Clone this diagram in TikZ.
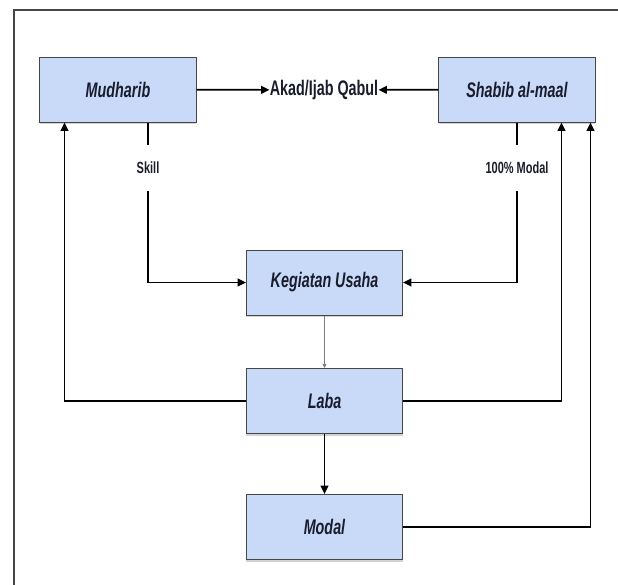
\documentclass[tikz,border=0pt]{standalone}
\usepackage{fontspec}
\setmainfont{Liberation Sans}[FakeStretch=0.68]
\usetikzlibrary{arrows.meta,shadows}

\definecolor{myboxblue}{RGB}{201,218,248}
\definecolor{myframegray}{RGB}{70,70,70}
\definecolor{mytextdark}{RGB}{25,28,45}

\tikzset{
  akadbox/.style={draw=myframegray,line width=0.7pt,fill=myboxblue,minimum width=3.9cm,minimum height=1.625cm,
    font=\fontsize{15}{17}\selectfont\bfseries\itshape,text=mytextdark,
    drop shadow={shadow xshift=0pt,shadow yshift=-1.5pt,opacity=0.35}},
  akadlabel/.style={inner sep=0pt,font=\fontsize{11.5}{13}\selectfont\bfseries,text=mytextdark,minimum height=1.15cm},
  arr/.style={line width=1.2pt,-{Triangle[length=6pt,width=5.5pt]}}
}

\begin{document}
\begin{tikzpicture}[x=0.025cm,y=-0.025cm]
\useasboundingbox (0,0) rectangle (618,585);
  \draw[myframegray,line width=1.4pt] (618,10) -- (14,10) -- (14,585);

  \node[akadbox] (mud)  at (118,89.5)  {Mudharib};
  \node[akadbox] (shab) at (517,89.5)  {Shabib al-maal};
  \node[akadbox] (keg)  at (324.5,282.5) {Kegiatan Usaha};
  \node[akadbox] (laba) at (324.5,401) {Laba};
  \node[akadbox] (mod)  at (324.5,527) {Modal};

  \node[inner sep=0pt,font=\fontsize{15}{17}\selectfont\bfseries,text=mytextdark] (akad) at (324,90) {Akad/Ijab Qabul};
  \node[akadlabel] (skill) at (148,168) {Skill};
  \node[akadlabel] (pm)    at (517,168) {100\% Modal};

  \draw[arr] (mud) -- (akad);
  \draw[arr] (shab) -- (akad);

  \draw[line width=1.2pt] (mud.south -| skill) -- (skill);
  \draw[arr] (skill) |- (keg);
  \draw[line width=1.2pt] (shab.south -| pm) -- (pm);
  \draw[arr] (pm) |- (keg);

  \draw[gray,line width=0.6pt,-{Triangle[length=3pt,width=3pt]}] (keg) -- (laba);
  \draw[arr] (laba) -- (mod);

  \draw[arr] (laba.west) -| ([xshift=0.625cm]mud.south west);
  \draw[arr] (laba.east) -| ([xshift=-0.85cm]shab.south east);
  \draw[arr] (mod.east) -| ([xshift=-0.125cm]shab.south east);
\end{tikzpicture}
\end{document}
